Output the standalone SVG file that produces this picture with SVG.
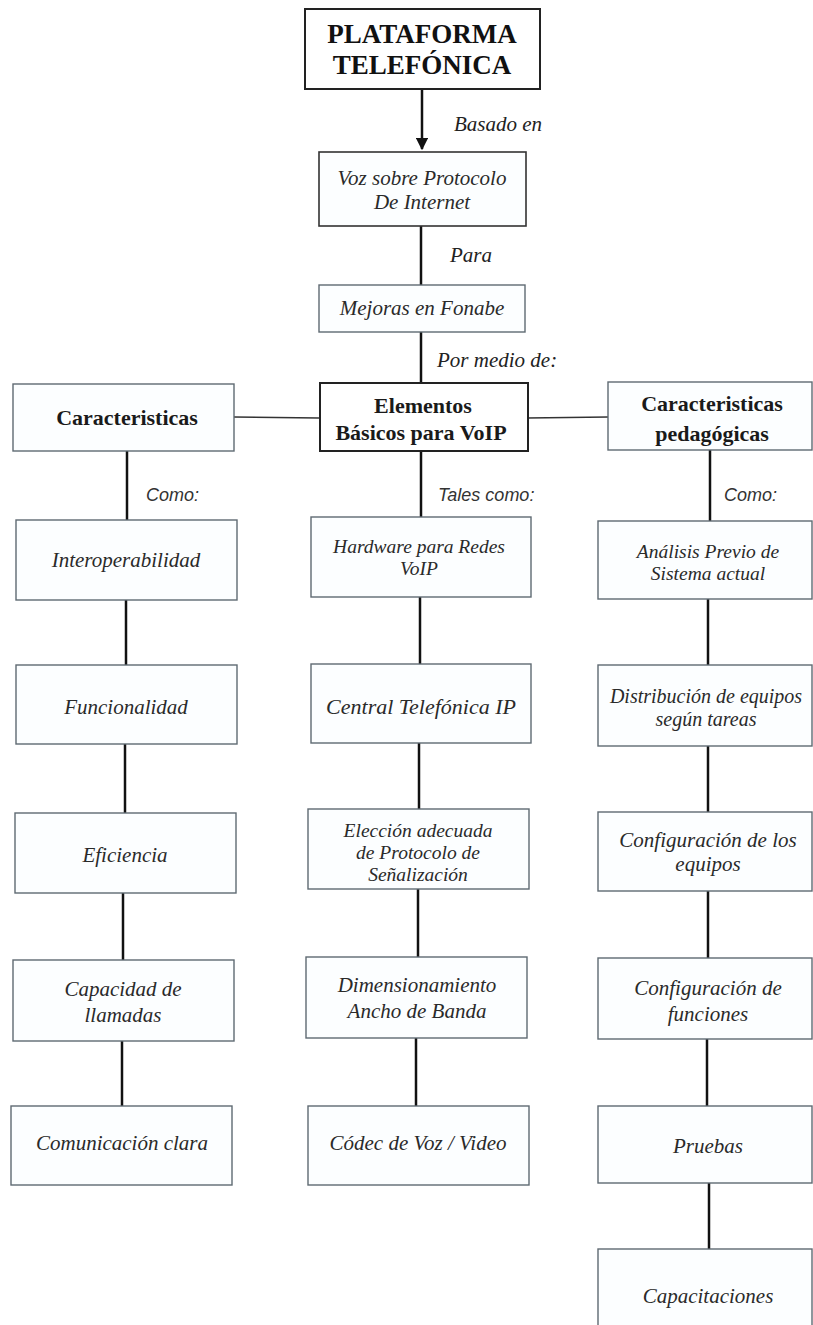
<svg xmlns="http://www.w3.org/2000/svg" width="813" height="1325" viewBox="0 0 813 1325">
<defs>
<style>
.bg{fill:#ffffff}
.box{fill:#fcfeff;stroke:#5f6a72;stroke-width:1.4}
.boxd{fill:#ffffff;stroke:#222;stroke-width:2}
.t{font-family:"Liberation Serif",serif;font-style:italic;font-size:21px;fill:#2a2a2a;text-anchor:middle}
.ts{font-family:"Liberation Serif",serif;font-style:italic;font-size:19.5px;fill:#2a2a2a;text-anchor:middle}
.h{font-family:"Liberation Serif",serif;font-weight:bold;font-size:22px;fill:#1a1a1a;text-anchor:middle}
.ht{font-family:"Liberation Serif",serif;font-weight:bold;font-size:27px;fill:#111;text-anchor:middle}
.lab{font-family:"Liberation Serif",serif;font-style:italic;font-size:21px;fill:#222}
.labs{font-family:"Liberation Sans",sans-serif;font-style:italic;font-size:18px;fill:#333}
.c{stroke:#111;stroke-width:2.5;fill:none}
.ch{stroke:#333;stroke-width:1.5;fill:none}
</style>
<marker id="arr" viewBox="0 0 10 10" refX="9" refY="5" markerWidth="5" markerHeight="5" markerUnits="strokeWidth" orient="auto">
<path d="M0,0 L10,5 L0,10 z" fill="#111"/>
</marker>
</defs>
<rect class="bg" x="0" y="0" width="813" height="1325"/>

<g id="connectors">
<line class="c" x1="422" y1="89" x2="422" y2="149" stroke-width="2" marker-end="url(#arr)"/>
<line class="c" x1="421" y1="226" x2="421" y2="285"/>
<line class="c" x1="421" y1="332" x2="421" y2="383"/>
<line class="ch" x1="234" y1="417" x2="319" y2="418"/>
<line class="ch" x1="527" y1="418" x2="608" y2="417"/>
<line class="c" x1="127" y1="451" x2="127" y2="520"/>
<line class="c" x1="126" y1="600" x2="126" y2="665"/>
<line class="c" x1="125" y1="744" x2="125" y2="813"/>
<line class="c" x1="123" y1="893" x2="123" y2="960"/>
<line class="c" x1="122" y1="1041" x2="122" y2="1106"/>
<line class="c" x1="421" y1="451" x2="421" y2="517"/>
<line class="c" x1="420" y1="597" x2="420" y2="664"/>
<line class="c" x1="419" y1="743" x2="419" y2="809"/>
<line class="c" x1="418" y1="889" x2="418" y2="957"/>
<line class="c" x1="416" y1="1038" x2="416" y2="1106"/>
<line class="c" x1="710" y1="450" x2="710" y2="521"/>
<line class="c" x1="708" y1="599" x2="708" y2="665"/>
<line class="c" x1="708" y1="746" x2="708" y2="812"/>
<line class="c" x1="708" y1="891" x2="708" y2="958"/>
<line class="c" x1="707" y1="1039" x2="707" y2="1106"/>
<line class="c" x1="709" y1="1183" x2="709" y2="1249"/>
<text class="lab" x="454" y="131">Basado en</text>
<text class="lab" x="450" y="262">Para</text>
<text class="lab" x="437" y="367">Por medio de:</text>
<text class="labs" x="146" y="501">Como:</text>
<text class="labs" x="438" y="501">Tales como:</text>
<text class="labs" x="724" y="501">Como:</text>
</g>

<g id="n-plataforma">
<rect class="boxd" x="305" y="9" width="235" height="80"/>
<text class="ht" x="422" y="43">PLATAFORMA</text>
<text class="ht" x="422" y="74">TELEFÓNICA</text>
</g>
<g id="n-voz">
<rect class="box" x="319" y="152" width="207" height="74" style="stroke:#333;stroke-width:1.6"/>
<text class="t" x="422" y="185">Voz sobre Protocolo</text>
<text class="t" x="422" y="209">De Internet</text>
</g>
<g id="n-mejoras">
<rect class="box" x="319" y="285" width="206" height="47"/>
<text class="t" x="422" y="315">Mejoras en Fonabe</text>
</g>
<g id="n-elementos">
<rect class="boxd" x="320" y="383" width="208" height="68"/>
<text class="h" x="423" y="413">Elementos</text>
<text class="h" x="421" y="440">Básicos para VoIP</text>
</g>
<g id="n-caracteristicas">
<rect class="box" x="13" y="384" width="221" height="67"/>
<text class="h" x="127" y="425">Caracteristicas</text>
</g>
<g id="n-pedagogicas">
<rect class="box" x="608" y="382" width="204" height="68"/>
<text class="h" x="712" y="411">Caracteristicas</text>
<text class="h" x="712" y="441">pedagógicas</text>
</g>

<g id="n-interoperabilidad">
<rect class="box" x="16" y="520" width="221" height="80"/>
<text class="t" x="126" y="567">Interoperabilidad</text>
</g>
<g id="n-funcionalidad">
<rect class="box" x="16" y="665" width="221" height="79"/>
<text class="t" x="126" y="714">Funcionalidad</text>
</g>
<g id="n-eficiencia">
<rect class="box" x="15" y="813" width="221" height="80"/>
<text class="t" x="125" y="862">Eficiencia</text>
</g>
<g id="n-capacidad">
<rect class="box" x="13" y="960" width="221" height="81"/>
<text class="t" x="123" y="996">Capacidad de</text>
<text class="t" x="123" y="1022">llamadas</text>
</g>
<g id="n-comunicacion">
<rect class="box" x="11" y="1106" width="221" height="79"/>
<text class="t" x="122" y="1150">Comunicación clara</text>
</g>

<g id="n-hardware">
<rect class="box" x="311" y="517" width="220" height="80"/>
<text class="ts" x="419" y="553">Hardware para Redes</text>
<text class="ts" x="419" y="575">VoIP</text>
</g>
<g id="n-central">
<rect class="box" x="311" y="664" width="220" height="79"/>
<text class="t" x="421" y="714" style="font-size:22px">Central Telefónica IP</text>
</g>
<g id="n-eleccion">
<rect class="box" x="308" y="809" width="221" height="80"/>
<text class="ts" x="418" y="837">Elección adecuada</text>
<text class="ts" x="418" y="859">de Protocolo de</text>
<text class="ts" x="418" y="881">Señalización</text>
</g>
<g id="n-dimensionamiento">
<rect class="box" x="306" y="957" width="221" height="81"/>
<text class="t" x="417" y="992">Dimensionamiento</text>
<text class="t" x="417" y="1018">Ancho de Banda</text>
</g>
<g id="n-codec">
<rect class="box" x="308" y="1106" width="221" height="79"/>
<text class="t" x="418" y="1150">Códec de Voz / Video</text>
</g>

<g id="n-analisis">
<rect class="box" x="598" y="521" width="214" height="78"/>
<text class="ts" x="708" y="558">Análisis Previo de</text>
<text class="ts" x="708" y="580">Sistema actual</text>
</g>
<g id="n-distribucion">
<rect class="box" x="598" y="665" width="214" height="81"/>
<text class="ts" x="706" y="703" style="font-size:20px">Distribución de equipos</text>
<text class="ts" x="706" y="726" style="font-size:20px">según tareas</text>
</g>
<g id="n-config-equipos">
<rect class="box" x="598" y="812" width="214" height="79"/>
<text class="t" x="708" y="847">Configuración de los</text>
<text class="t" x="708" y="871">equipos</text>
</g>
<g id="n-config-funciones">
<rect class="box" x="598" y="958" width="214" height="81"/>
<text class="t" x="708" y="995">Configuración de</text>
<text class="t" x="708" y="1021">funciones</text>
</g>
<g id="n-pruebas">
<rect class="box" x="598" y="1106" width="214" height="77"/>
<text class="t" x="708" y="1153">Pruebas</text>
</g>
<g id="n-capacitaciones">
<rect class="box" x="598" y="1249" width="214" height="80"/>
<text class="t" x="708" y="1303">Capacitaciones</text>
</g>
</svg>
